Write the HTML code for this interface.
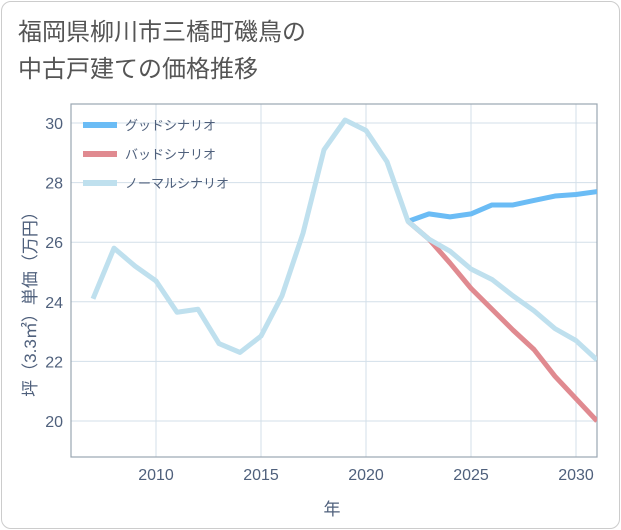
<!DOCTYPE html>
<html><head><meta charset="utf-8"><style>
body{margin:0;background:#fff;font-family:"Liberation Sans","Noto Sans CJK JP",sans-serif;}
#card{position:absolute;left:1px;top:1px;width:617px;height:526px;border:1px solid #ccc;border-radius:10px;background:#fff;}
#title{position:absolute;left:18px;top:14px;font-size:24px;line-height:37px;color:#555;font-family:"Liberation Sans","Noto Sans CJK JP",sans-serif;}
svg{position:absolute;left:0;top:0;}
</style></head><body>
<div id="card"></div>
<div id="title">福岡県柳川市三橋町磯鳥の<br>中古戸建ての価格推移</div>
<svg id="chart" width="621" height="530"></svg>
<script>
const years=[2007,2008,2009,2010,2011,2012,2013,2014,2015,2016,2017,2018,2019,2020,2021,2022,2023,2024,2025,2026,2027,2028,2029,2030,2031];
const normal=[24.1,25.8,25.2,24.7,23.65,23.75,22.6,22.3,22.85,24.2,26.3,29.1,30.1,29.75,28.7,26.7,26.1,25.7,25.1,24.75,24.2,23.7,23.1,22.7,22.05];
const futureYears=[2022,2023,2024,2025,2026,2027,2028,2029,2030,2031];
const good=[26.7,26.95,26.85,26.95,27.25,27.25,27.4,27.55,27.6,27.7];
const bad=[26.7,26.1,25.3,24.45,23.75,23.05,22.4,21.5,20.75,20.0];
const xTicks=[2010,2015,2020,2025,2030];
const yTicks=[20,22,24,26,28,30];
const legendLabels=["グッドシナリオ","バッドシナリオ","ノーマルシナリオ"];
const colors=["#6bbcf5","#e08a90","#bfe0ee"];

const L=71,R=597,T=104,B=457;
const xs=y=>156+(y-2010)*21;
const ys=v=>421-(v-20)*29.8;
const svg=document.getElementById('chart');
const NS="http://www.w3.org/2000/svg";
function mk(tag,attrs){const e=document.createElementNS(NS,tag);for(const k in attrs)e.setAttribute(k,attrs[k]);svg.appendChild(e);return e;}

for(const t of xTicks){
 const g=mk('line',{x1:xs(t),x2:xs(t),y1:T,y2:B,stroke:'#d3dfe9','stroke-width':1});
 
 
 const tx=mk('text',{x:xs(t),y:B+23,'text-anchor':'middle','font-size':16,fill:'#4f607c'});
 tx.textContent=t;
 
 
}
for(const t of yTicks){
 const g=mk('line',{x1:L,x2:R,y1:ys(t),y2:ys(t),stroke:'#d3dfe9','stroke-width':1});
 
 
 const tx=mk('text',{x:L-8,y:ys(t)+6,'text-anchor':'end','font-size':16,fill:'#4f607c'});
 tx.textContent=t;
 
 
}
const frame=mk('rect',{x:L,y:T,width:R-L,height:B-T,fill:'none',stroke:'#9aa6b2','stroke-width':1.2});



function line(xv,yv,c,name){
 const d=xv.map((x,i)=>(i?'L':'M')+xs(x)+' '+ys(yv[i])).join(' ');
 const p=mk('path',{d:d,fill:'none',stroke:c,'stroke-width':5,'stroke-linejoin':'round'});
 
 
}
svg.insertAdjacentHTML('beforeend','<clipPath id="cp"><rect x="71" y="104" width="526" height="353"/></clipPath>');
const gclip=document.createElementNS(NS,'g');gclip.setAttribute('clip-path','url(#cp)');svg.appendChild(gclip);
line(futureYears,good,colors[0],'good-scenario-line');
line(futureYears,bad,colors[1],'bad-scenario-line');
line(years,normal,colors[2],'normal-scenario-line');
for(const p of Array.from(svg.querySelectorAll('path')))gclip.appendChild(p);

legendLabels.forEach((lab,i)=>{
 const y=125+i*29;
 const l=mk('line',{x1:83,x2:117,y1:y,y2:y,stroke:colors[i],'stroke-width':6});
 
 
 const t=mk('text',{x:125,y:y+5,'font-size':13,fill:'#4f607c'});
 t.textContent=lab;
 
 
});
const xt=mk('text',{x:332,y:515,'text-anchor':'middle','font-size':17,fill:'#4f607c'});
xt.textContent='年';


const yt=mk('text',{x:0,y:0,'text-anchor':'middle','font-size':17,fill:'#4f607c',transform:'translate(36,300) rotate(-90)'});
yt.textContent='坪（3.3㎡）単価（万円）';


</script>
</body></html>
